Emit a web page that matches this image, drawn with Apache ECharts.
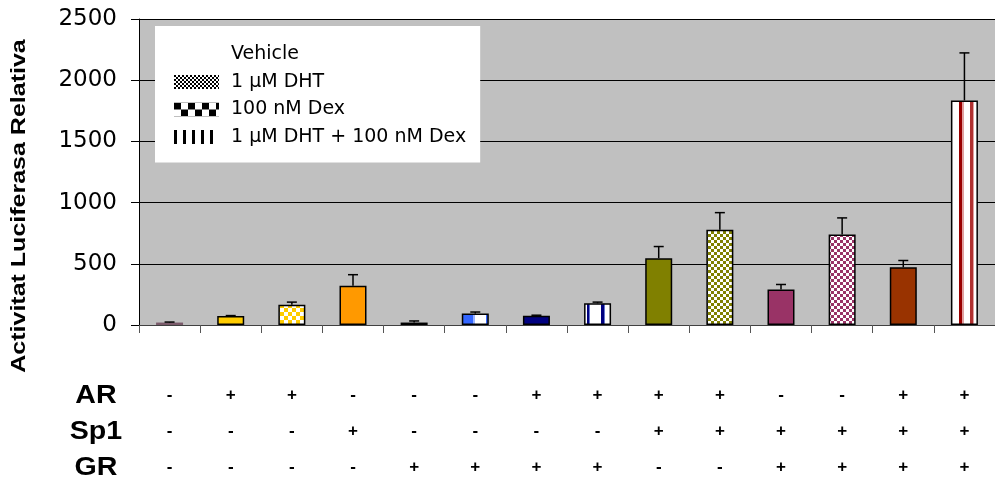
<!DOCTYPE html>
<html>
<head>
<meta charset="utf-8">
<script src="https://cdn.jsdelivr.net/npm/echarts@6/dist/echarts.min.js"></script>
<style>
  html, body { margin: 0; padding: 0; background: #fff; }
  #chart { width: 995px; height: 485px; }
</style>
</head>
<body>
<div id="chart"></div>
<script>
// Transfected constructs for each condition
const AR  = ['-', '+', '+', '-', '-', '-', '+', '+', '+', '+', '-', '-', '+', '+'];
const Sp1 = ['-', '-', '-', '+', '-', '-', '-', '-', '+', '+', '+', '+', '+', '+'];
const GR  = ['-', '-', '-', '-', '+', '+', '+', '+', '-', '-', '+', '+', '+', '+'];
const rowNames = ['AR', 'Sp1', 'GR'];

// Hormone treatments and the treatment applied in each condition
const treatments = ['Vehicle', '1 \u00b5M DHT', '100 nM Dex', '1 \u00b5M DHT + 100 nM Dex'];
const treatmentOfBar = [0, 0, 1, 0, 0, 2, 0, 3, 0, 1, 0, 2, 0, 3];

// Relative luciferase activity (mean) and upper error
const means = [20, 73, 166, 321, 20, 93, 76, 177, 546, 779, 291, 739, 472, 1835];
const errors = [4, 4, 21, 90, 13, 13, 4, 10, 95, 139, 40, 136, 55, 388];

// Value axis ticks
const yTicks = [0, 500, 1000, 1500, 2000, 2500];

const FONT = '"Liberation Sans", Arial, sans-serif';
const WIDE = '"DejaVu Sans", sans-serif';

function checker(color, c) {
  const cv = document.createElement('canvas');
  cv.width = cv.height = 2 * c;
  const g = cv.getContext('2d');
  g.fillStyle = '#fff';
  g.fillRect(0, 0, 2 * c, 2 * c);
  g.fillStyle = color;
  g.fillRect(0, 0, c, c);
  g.fillRect(c, c, c, c);
  return { image: cv, repeat: 'repeat' };
}

function vbars(color, period, w) {
  const cv = document.createElement('canvas');
  cv.width = period; cv.height = 4;
  const g = cv.getContext('2d');
  g.fillStyle = '#fff';
  g.fillRect(0, 0, period, 4);
  g.fillStyle = color;
  g.fillRect(0, 0, w, 4);
  return { image: cv, repeat: 'repeat' };
}

// vertical bands inside a bar, given as [from, to, color] fractions of its width
function stripes(base, bands) {
  const stops = [];
  let pos = 0;
  bands.forEach(([a, b, c]) => {
    stops.push({ offset: pos, color: base }, { offset: a, color: base },
               { offset: a, color: c }, { offset: b, color: c });
    pos = b;
  });
  stops.push({ offset: pos, color: base }, { offset: 1, color: base });
  return { type: 'linear', x: 0, y: 0, x2: 1, y2: 0, colorStops: stops };
}

const fills = [
  '#FF99CC',
  '#FFCC00',
  checker('#FFCC00', 4),
  '#FF9900',
  '#3366FF',
  stripes('#FFFFFF', [[0, 0.42, '#3366FF'], [0.42, 0.5, '#99B3FF'], [0.88, 1, '#3366FF']]),
  '#000080',
  stripes('#FFFFFF', [[0.1, 0.17, '#000080'], [0.17, 0.22, '#6677CC'], [0.62, 0.72, '#000080'], [0.72, 0.76, '#6677CC']]),
  '#808000',
  checker('#808000', 3),
  '#993366',
  checker('#993366', 3),
  '#993300',
  stripes('#FFFFFF', [[0.3, 0.42, '#990000'], [0.42, 0.47, '#E0A0A0'], [0.7, 0.8, '#B03030'], [0.8, 0.86, '#E0A0A0']])
];
const borders = ['#7A5A6A', '#000', '#000', '#000', '#000', '#000', '#000', '#000', '#000', '#000', '#000', '#000', '#000', '#000'];

const legendFills = ['#FFFFFF', checker('#000', 2), checker('#000', 7), vbars('#000', 9, 3)];

const categories = AR.map((a, i) => a + '\n' + Sp1[i] + '\n' + GR[i]);

const barSeries = treatments.map((t, k) => ({
  type: 'bar',
  name: t,
  barWidth: 27,
  barGap: '-100%',
  z: 2,
  itemStyle: { borderColor: '#000', borderWidth: 1.5, color: legendFills[k] },
  emphasis: { disabled: true },
  data: means.map((v, i) => treatmentOfBar[i] === k
    ? { value: v, itemStyle: { color: fills[i], borderColor: borders[i] } }
    : '-')
}));

const errorSeries = {
  type: 'custom',
  name: 'error',
  z: 3,
  silent: true,
  encode: { x: 0, y: [1, 2] },
  data: means.map((v, i) => [i, v, v + errors[i]]),
  renderItem: (params, api) => {
    const base = api.coord([api.value(0), api.value(1)]);
    const top = api.coord([api.value(0), api.value(2)]);
    const cap = 5;
    const st = { stroke: '#000', lineWidth: 1.5 };
    return {
      type: 'group',
      children: [
        { type: 'line', shape: { x1: base[0], y1: base[1], x2: base[0], y2: top[1] }, style: st },
        { type: 'line', shape: { x1: base[0] - cap, y1: top[1], x2: base[0] + cap, y2: top[1] }, style: st }
      ]
    };
  }
};

const chart = echarts.init(document.getElementById('chart'), null, { renderer: 'canvas' });
chart.setOption({
  animation: false,
  backgroundColor: '#fff',
  textStyle: { fontFamily: FONT },
  grid: {
    left: 139, top: 19, width: 867, height: 307,
    show: true, backgroundColor: '#C0C0C0', borderWidth: 0
  },
  legend: {
    orient: 'vertical',
    left: 155, top: 26,
    backgroundColor: '#fff',
    padding: [19, 14, 16, 19],
    itemWidth: 45, itemHeight: 14, itemGap: 8.5,
    selectedMode: false,
    textStyle: { fontSize: 19, color: '#000', fontFamily: WIDE, padding: [0, 0, 0, 7] },
    data: treatments.map((t, k) => ({ name: t, icon: 'rect', itemStyle: { color: legendFills[k], borderWidth: 0 } }))
  },
  xAxis: {
    type: 'category',
    data: categories,
    axisLine: { show: true, lineStyle: { color: '#404040', width: 1 } },
    axisTick: { show: true, length: 8, lineStyle: { color: '#555' } },
    axisLabel: {
      interval: 0, margin: 52, lineHeight: 36,
      fontSize: 17, fontWeight: 'bold', color: '#000', fontFamily: FONT
    },
    splitLine: { show: false }
  },
  yAxis: {
    type: 'value',
    min: yTicks[0], max: yTicks[yTicks.length - 1], interval: yTicks[1] - yTicks[0],
    axisLine: { show: true, lineStyle: { color: '#000' } },
    axisTick: { show: true, length: 8, lineStyle: { color: '#000' } },
    axisLabel: { fontSize: 23, margin: 22, color: '#000', fontFamily: WIDE, formatter: v => String(v) },
    splitLine: { show: true, lineStyle: { color: '#000', width: 1 } }
  },
  graphic: [
    {
      type: 'text', x: 19, y: 206, rotation: Math.PI / 2, scaleX: 1.25,
      style: { text: 'Activitat Luciferasa Relativa', font: 'bold 20px ' + FONT, fill: '#000', align: 'center', verticalAlign: 'middle' }
    }
  ].concat(rowNames.map((n, r) => ({
    type: 'text', x: 96, y: 396 + r * 36, scaleX: 1.1,
    style: { text: n, font: 'bold 26px ' + FONT, fill: '#000', align: 'center', verticalAlign: 'middle' }
  }))),
  series: barSeries.concat([errorSeries])
});
</script>
</body>
</html>
